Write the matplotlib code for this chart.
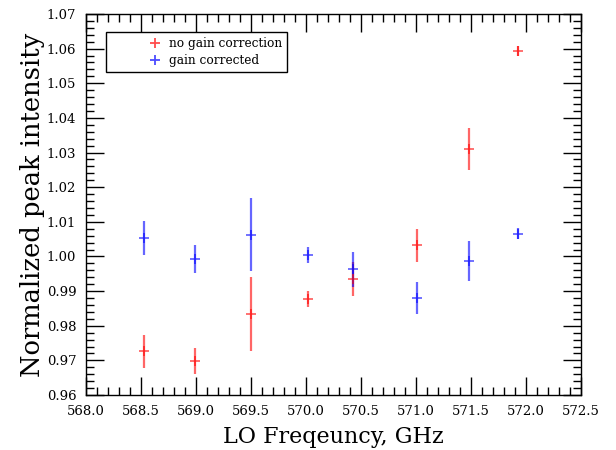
import numpy as np
import matplotlib.pyplot as plt
from matplotlib.ticker import MultipleLocator
from matplotlib.lines import Line2D

plt.rcParams['font.family'] = ['DejaVu Serif']

# LO frequency (GHz)
freq = [568.527, 568.99, 569.497, 570.015, 570.43, 571.01, 571.48, 571.93]

# no gain correction
raw_val = [0.9726, 0.9699, 0.9834, 0.9876, 0.9935, 1.0032, 1.0311, 1.0593]
raw_err = [0.0047, 0.0038, 0.0106, 0.0023, 0.0050, 0.0047, 0.0060, 0.0014]

# gain corrected
cor_val = [1.0053, 0.9993, 1.0063, 1.0005, 0.9963, 0.9879, 0.9986, 1.0066]
cor_err = [0.0050, 0.0040, 0.0105, 0.0023, 0.0050, 0.0046, 0.0058, 0.0015]

fig = plt.figure(figsize=(6.16, 4.5), dpi=100)
ax = fig.add_axes([86/616, 1 - 395/450, (581-86)/616, (395-14)/450])

ax.errorbar(freq, raw_val, yerr=raw_err, fmt='+', color='red', ms=7.5,
            mew=1.3, elinewidth=1.6, alpha=0.6)
ax.errorbar(freq, cor_val, yerr=cor_err, fmt='+', color='blue', ms=7.5,
            mew=1.3, elinewidth=1.6, alpha=0.6)

ax.set_xlim(568.0, 572.5)
ax.set_ylim(0.96, 1.07)
ax.xaxis.set_major_locator(MultipleLocator(0.5))
ax.xaxis.set_minor_locator(MultipleLocator(0.1))
ax.yaxis.set_major_locator(MultipleLocator(0.01))
ax.yaxis.set_minor_locator(MultipleLocator(0.002))
ax.xaxis.set_major_formatter(plt.FormatStrFormatter('%.1f'))
ax.yaxis.set_major_formatter(plt.FormatStrFormatter('%.2f'))
ax.tick_params(which='both', direction='in', top=True, right=True, labelsize=9.5, pad=7)
ax.tick_params(which='major', length=13, width=1)
ax.tick_params(which='minor', length=6, width=1)
for s in ax.spines.values():
    s.set_linewidth(1)

ax.set_xlabel('LO Freqeuncy, GHz', fontsize=16, labelpad=6)
ax.set_ylabel('Normalized peak intensity', fontsize=18.5)
ax.yaxis.set_label_coords(-0.083, 0.5)

handles = [Line2D([], [], ls='none', marker='+', color='red', ms=7.5, mew=1.3, alpha=0.7),
           Line2D([], [], ls='none', marker='+', color='blue', ms=7.5, mew=1.3, alpha=0.7)]
leg = ax.legend(handles, ['no gain correction', 'gain corrected'],
                loc='upper left', bbox_to_anchor=(0.04, 0.953), borderaxespad=0,
                fontsize=8.7, fancybox=False, edgecolor='black', framealpha=1,
                borderpad=0.4, handlelength=7.4, handletextpad=-2.6, labelspacing=0.35)
leg.get_frame().set_linewidth(1)

fig.savefig('out.png', dpi=100)
